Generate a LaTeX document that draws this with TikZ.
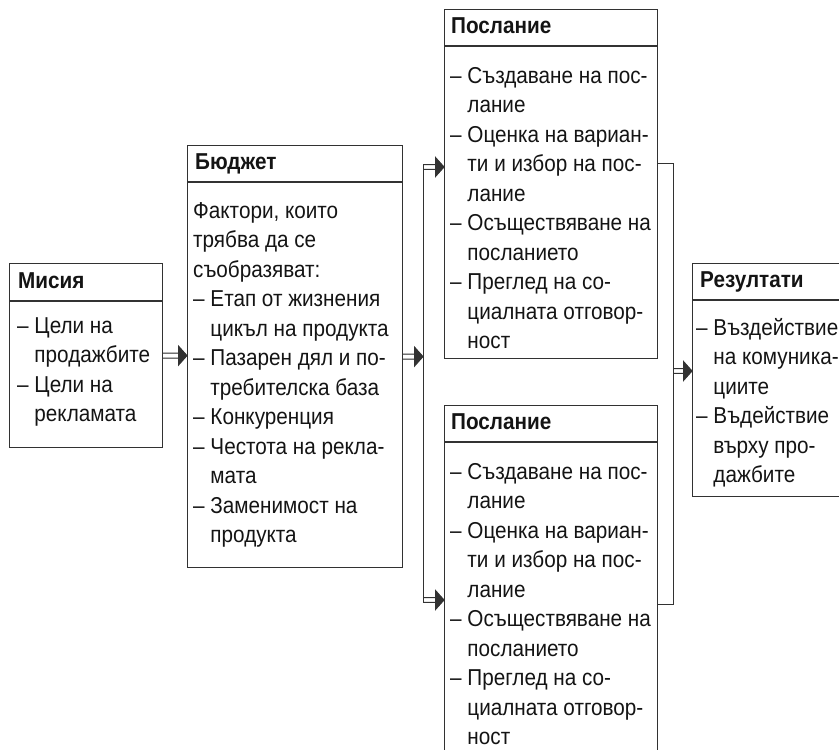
\documentclass[tikz,border=0pt]{standalone}
\usepackage{fontspec}
\setmainfont[FakeStretch=0.9]{Liberation Sans}
\usetikzlibrary{calc}
\definecolor{linec}{RGB}{50,50,50}
\definecolor{txtc}{RGB}{20,20,20}
\newcommand{\fs}{\fontsize{23}{29.5}\selectfont}
\newcommand{\ind}{\phantom{–\ }}
\newcommand{\tb}[1]{\parbox[t]{250pt}{\raggedright\parindent=0pt #1}}
\begin{document}
\begin{tikzpicture}[x=1pt,y=-1pt,
  lc/.style={draw=linec, line width=1.2pt},
  box/.style={draw=linec, line width=1.2pt, rectangle, inner sep=0pt, anchor=north west},
  hdr/.style={font=\fs\bfseries, text=txtc, inner sep=0pt, anchor=base west},
  body/.style={font=\fs, text=txtc, inner sep=0pt, anchor=base west},
  dblarrow/.style={draw=linec, fill=linec, line width=1pt, to path={
     ($(\tikztostart)+(0,-2.4)$) -- ($(\tikztotarget)+(-7,-2.4)$)
     ($(\tikztostart)+(0,2.4)$) -- ($(\tikztotarget)+(-7,2.4)$)
     ($(\tikztotarget)+(-8.5,-9.5)$) -- (\tikztotarget) -- ($(\tikztotarget)+(-8.5,9.5)$) -- cycle}}]
\useasboundingbox (0,0) rectangle (839,750);
\clip (0,0) rectangle (839,750);

% ---- Мисия
\node[box, minimum width=153pt, minimum height=184pt] (mis) at (9,263) {};
\draw[lc] ([yshift=-38pt]mis.north west) -- ([yshift=-38pt]mis.north east);
\node[hdr] (mish) at ([xshift=9pt,yshift=-25pt]mis.north west) {Мисия};
\node[body] (misb) at ([xshift=8pt,yshift=-70pt]mis.north west)
  {\tb{– Цели на\\\ind продажбите\\– Цели на\\\ind рекламата}};

% ---- Бюджет
\node[box, minimum width=215pt, minimum height=422pt] (bud) at (187,145) {};
\draw[lc] ([yshift=-37pt]bud.north west) -- ([yshift=-37pt]bud.north east);
\node[hdr] (budh) at ([xshift=8pt,yshift=-24pt]bud.north west) {Бюджет};
\node[body] (budb) at ([xshift=6pt,yshift=-73pt]bud.north west)
  {\tb{Фактори, които\\трябва да се\\съобразяват:\\– Етап от жизнения\\\ind цикъл на продукта\\– Пазарен дял и по-\\\ind требителска база\\– Конкуренция\\– Честота на рекла-\\\ind мата\\– Заменимост на\\\ind продукта}};

% ---- Послание (горе)
\node[box, minimum width=213pt, minimum height=349pt] (msg1) at (444,9) {};
\draw[lc] ([yshift=-37pt]msg1.north west) -- ([yshift=-37pt]msg1.north east);
\node[hdr] (msg1h) at ([xshift=7pt,yshift=-24pt]msg1.north west) {Послание};
\node[body] (msg1b) at ([xshift=6pt,yshift=-74pt]msg1.north west)
  {\tb{– Създаване на пос-\\\ind лание\\– Оценка на вариан-\\\ind ти и избор на пос-\\\ind лание\\– Осъществяване на\\\ind посланието\\– Преглед на со-\\\ind циалната отговор-\\\ind ност}};

% ---- Послание (долу)
\node[box, minimum width=213pt, minimum height=360pt] (msg2) at (444,405) {};
\draw[lc] ([yshift=-37pt]msg2.north west) -- ([yshift=-37pt]msg2.north east);
\node[hdr] (msg2h) at ([xshift=7pt,yshift=-24pt]msg2.north west) {Послание};
\node[body] (msg2b) at ([xshift=6pt,yshift=-74pt]msg2.north west)
  {\tb{– Създаване на пос-\\\ind лание\\– Оценка на вариан-\\\ind ти и избор на пос-\\\ind лание\\– Осъществяване на\\\ind посланието\\– Преглед на со-\\\ind циалната отговор-\\\ind ност}};

% ---- Результати
\node[box, minimum width=160pt, minimum height=233pt] (res) at (692,263) {};
\draw[lc] ([yshift=-37pt]res.north west) -- ([yshift=-37pt]res.north east);
\node[hdr] (resh) at ([xshift=8pt,yshift=-24pt]res.north west) {Резултати};
\node[body] (resb) at ([xshift=4pt,yshift=-72pt]res.north west)
  {\tb{– Въздействие\\\ind на комуника-\\\ind циите\\– Въдействие\\\ind върху про-\\\ind дажбите}};

% ---- connectors
\coordinate (m1) at (mis.east);
\coordinate (m2) at (bud.west |- m1);
\draw[dblarrow] (m1) to (m2);

\coordinate (b1) at (bud.east);
\coordinate (a0) at (423,355);
\coordinate (b2) at (a0 |- b1);
\draw[dblarrow] (b1) to (b2);

\coordinate (a1) at (423,167);
\coordinate (a2) at (423,600);
\coordinate (t1) at (msg1.west |- a1);
\coordinate (t2) at (msg2.west |- a2);
\draw[lc, line width=1pt] ([yshift=2.4pt]a1) -- ([yshift=-2.4pt]a2);
\draw[dblarrow] (a1) to (t1);
\draw[dblarrow] (a2) to (t2);

\coordinate (r1) at (673,163);
\coordinate (r2) at (673,604);
\coordinate (r3) at (673,371);
\coordinate (e1) at (msg1.east |- r1);
\coordinate (e2) at (msg2.east |- r2);
\coordinate (r4) at (res.west |- r3);
\draw[lc, line width=1pt] (e1) -- (r1) -- (r2) -- (e2);
\draw[dblarrow] (r3) to (r4);
\end{tikzpicture}
\end{document}
